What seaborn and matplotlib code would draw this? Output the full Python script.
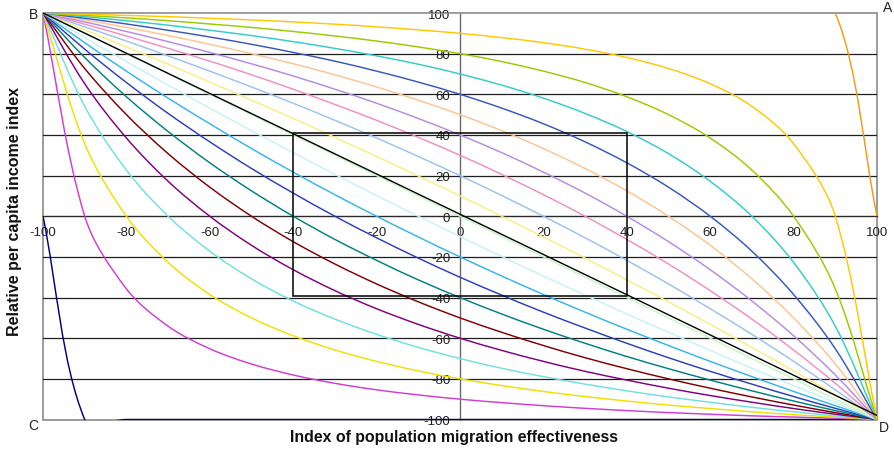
import math
import matplotlib
matplotlib.use("Agg")
import matplotlib.pyplot as plt
from matplotlib.path import Path
from matplotlib.patches import PathPatch, Rectangle
import seaborn as sns

x_index = [-100, -90, -80, -70, -60, -50, -40, -30, -20, -10, 0,
           10, 20, 30, 40, 50, 60, 70, 80, 90, 100]

y_p100 = [100, 100, 100, 100, 100, 100, 100, 100, 100, 100, 100,
          100, 100, 100, 100, 100, 100, 100, 100, 100, 0]
y_p90 = [100, 99.4, 98.8, 98.2, 97.4, 96.6, 95.6, 94.5, 93.2, 91.7, 90,
         87.9, 85.4, 82.2, 78.1, 72.7, 65.2, 54.1, 35.7, 0, -100]
y_p80 = [100, 98.8, 97.6, 96.2, 94.6, 92.9, 90.9, 88.7, 86.2, 83.3, 80,
         76.1, 71.4, 65.8, 58.8, 50.0, 38.5, 22.7, 0, -35.7, -100]
y_p70 = [100, 98.2, 96.2, 94.0, 91.5, 88.9, 85.9, 82.6, 78.9, 74.8, 70,
         64.5, 58.1, 50.6, 41.7, 30.8, 17.2, 0, -22.7, -54.1, -100]
y_p60 = [100, 97.4, 94.6, 91.5, 88.2, 84.6, 80.6, 76.3, 71.4, 66.0, 60,
         53.2, 45.5, 36.6, 26.3, 14.3, 0, -17.2, -38.5, -65.2, -100]
y_p50 = [100, 96.6, 92.9, 88.9, 84.6, 80.0, 75.0, 69.6, 63.6, 57.1, 50,
         42.1, 33.3, 23.5, 12.5, 0, -14.3, -30.8, -50.0, -72.7, -100]
y_p40 = [100, 95.6, 90.9, 85.9, 80.6, 75.0, 69.0, 62.5, 55.6, 48.1, 40,
         31.3, 21.7, 11.4, 0, -12.5, -26.3, -41.7, -58.8, -78.1, -100]
y_p30 = [100, 94.5, 88.7, 82.6, 76.3, 69.6, 62.5, 55.0, 47.2, 38.8, 30,
         20.6, 10.6, 0, -11.4, -23.5, -36.6, -50.6, -65.8, -82.2, -100]
y_p20 = [100, 93.2, 86.2, 78.9, 71.4, 63.6, 55.6, 47.2, 38.5, 29.4, 20,
         10.2, 0, -10.6, -21.7, -33.3, -45.5, -58.1, -71.4, -85.4, -100]
y_p10 = [100, 91.7, 83.3, 74.8, 66.0, 57.1, 48.1, 38.8, 29.4, 19.8, 10,
         0, -10.2, -20.6, -31.3, -42.1, -53.2, -64.5, -76.1, -87.9, -100]
y_0 = [100, 90, 80, 70, 60, 50, 40, 30, 20, 10, 0,
       -10, -20, -30, -40, -50, -60, -70, -80, -90, -100]
y_m10 = [100, 87.9, 76.1, 64.5, 53.2, 42.1, 31.3, 20.6, 10.2, 0, -10,
         -19.8, -29.4, -38.8, -48.1, -57.1, -66.0, -74.8, -83.3, -91.7, -100]
y_m20 = [100, 85.4, 71.4, 58.1, 45.5, 33.3, 21.7, 10.6, 0, -10.2, -20,
         -29.4, -38.5, -47.2, -55.6, -63.6, -71.4, -78.9, -86.2, -93.2, -100]
y_m30 = [100, 82.2, 65.8, 50.6, 36.6, 23.5, 11.4, 0, -10.6, -20.6, -30,
         -38.8, -47.2, -55.0, -62.5, -69.6, -76.3, -82.6, -88.7, -94.5, -100]
y_m40 = [100, 78.1, 58.8, 41.7, 26.3, 12.5, 0, -11.4, -21.7, -31.3, -40,
         -48.1, -55.6, -62.5, -69.0, -75.0, -80.6, -85.9, -90.9, -95.6, -100]
y_m50 = [100, 72.7, 50.0, 30.8, 14.3, 0, -12.5, -23.5, -33.3, -42.1, -50,
         -57.1, -63.6, -69.6, -75.0, -80.0, -84.6, -88.9, -92.9, -96.6, -100]
y_m60 = [100, 65.2, 38.5, 17.2, 0, -14.3, -26.3, -36.6, -45.5, -53.2, -60,
         -66.0, -71.4, -76.3, -80.6, -84.6, -88.2, -91.5, -94.6, -97.4, -100]
y_m70 = [100, 54.1, 22.7, 0, -17.2, -30.8, -41.7, -50.6, -58.1, -64.5, -70,
         -74.8, -78.9, -82.6, -85.9, -88.9, -91.5, -94.0, -96.2, -98.2, -100]
y_m80 = [100, 35.7, 0, -22.7, -38.5, -50.0, -58.8, -65.8, -71.4, -76.1, -80,
         -83.3, -86.2, -88.7, -90.9, -92.9, -94.6, -96.2, -97.6, -98.8, -100]
y_m90 = [100, 0, -35.7, -54.1, -65.2, -72.7, -78.1, -82.2, -85.4, -87.9, -90,
         -91.7, -93.2, -94.5, -95.6, -96.6, -97.4, -98.2, -98.8, -99.4, -100]
y_m100 = [0, -100, -100, -100, -100, -100, -100, -100, -100, -100, -100,
          -100, -100, -100, -100, -100, -100, -100, -100, -100, -100]

curve_colors = ['#000080', '#D23CD2', '#F2DF00', '#6FE0E0', '#800080', '#800000',
                '#008080', '#2A3FC0', '#33B5EE', '#C8F2F2', '#C8F5C8', '#F7EE85',
                '#99C2F2', '#F38EBF', '#B48BE6', '#FFC38F', '#3558C0', '#33CCCC',
                '#99CC00', '#FFC800', '#F39A1E']
curves = [y_m100, y_m90, y_m80, y_m70, y_m60, y_m50, y_m40, y_m30, y_m20, y_m10,
          y_0, y_p10, y_p20, y_p30, y_p40, y_p50, y_p60, y_p70, y_p80, y_p90, y_p100]

tick_values = [-100, -80, -60, -40, -20, 0, 20, 40, 60, 80, 100]
grid_levels = [-80, -60, -40, -20, 20, 40, 60, 80]
diag_x = [-100, 100]
diag_y = [100, -98]
box_x = [-40, 40]
box_y = [-39, 41]

x_title = "Index of population migration effectiveness"
y_title = "Relative per capita income index"

W, H = 894, 452
left, right, top, bottom = 43, 877, 14, 420.5
SX = (right - left) / 200.0   # pixels per x unit
SY = (bottom - top) / 200.0   # pixels per y unit


def smooth_path(xs, ys):
    """Smoothed line (like a spreadsheet 'smoothed line'): cubic Bezier segments
    through the data points, tangents weighted by on-screen chord lengths."""
    n = len(xs)
    px = [x * SX for x in xs]
    py = [y * SY for y in ys]
    d = [math.hypot(px[i + 1] - px[i], py[i + 1] - py[i]) for i in range(n - 1)]
    tx, ty = [], []
    for i in range(n):
        a = max(i - 1, 0)
        b = min(i + 1, n - 1)
        span = (d[i - 1] if i > 0 else 0) + (d[i] if i < n - 1 else 0)
        tx.append((px[b] - px[a]) / span)
        ty.append((py[b] - py[a]) / span)
    verts = [(xs[0], ys[0])]
    codes = [Path.MOVETO]
    for i in range(n - 1):
        L = d[i] / 3.0
        c1 = ((px[i] + tx[i] * L) / SX, (py[i] + ty[i] * L) / SY)
        c2 = ((px[i + 1] - tx[i + 1] * L) / SX, (py[i + 1] - ty[i + 1] * L) / SY)
        verts += [c1, c2, (xs[i + 1], ys[i + 1])]
        codes += [Path.CURVE4, Path.CURVE4, Path.CURVE4]
    return Path(verts, codes)


sns.set_style("white")
plt.rcParams['font.family'] = ['Liberation Sans', 'DejaVu Sans']

fig = plt.figure(figsize=(W / 100, H / 100), dpi=100)
ax = fig.add_axes([left / W, 1 - bottom / H, (right - left) / W, (bottom - top) / H])
ax.set_xlim(-100, 100)
ax.set_ylim(-100, 100)
ax.set_facecolor('white')

# outer frame
ax.add_patch(Rectangle((-100, -100), 200, 200, fill=False, edgecolor='#8a8a8a',
                       lw=1.2, zorder=0.5, clip_on=False))
# horizontal gridlines
for g in grid_levels:
    ax.axhline(g, color='#1e1e1e', lw=0.9, zorder=1)

# centred axes
for s in ['top', 'right']:
    ax.spines[s].set_visible(False)
ax.spines['left'].set_position(('data', 0))
ax.spines['bottom'].set_position(('data', 0))
ax.spines['left'].set_color('#6a6a6a')
ax.spines['bottom'].set_color('#2a2a2a')
ax.spines['left'].set_linewidth(1.0)
ax.spines['bottom'].set_linewidth(1.0)
ax.spines['left'].set_zorder(1.5)
ax.spines['bottom'].set_zorder(1.5)
ax.set_xticks(tick_values)
ax.set_yticks(tick_values)
ax.set_xticklabels([str(v) for v in tick_values])
ax.set_yticklabels([str(v) for v in tick_values])
ax.tick_params(axis='both', direction='out', length=4, width=0.8, color='#444444',
               labelsize=9.5, labelcolor='#222222', pad=3)
ax.grid(False)

# smoothed curves
clip_rect = Rectangle((-101, -101), 202, 202, transform=ax.transData)
for ys, col in zip(curves, curve_colors):
    patch = PathPatch(smooth_path(x_index, ys), fill=False, edgecolor=col, lw=1.05,
                      zorder=2)
    patch.set_clip_path(clip_rect)
    ax.add_patch(patch)

# diagonal and central box
sns.lineplot(x=diag_x, y=diag_y, color='black', lw=1.0, ax=ax, zorder=5)
ax.add_patch(Rectangle((box_x[0], box_y[0]), box_x[1] - box_x[0], box_y[1] - box_y[0],
                       fill=False, edgecolor='black', lw=1.1, zorder=5))

# corner letters
corner_kw = dict(xycoords='data', textcoords='offset pixels', fontsize=10,
                 color='#222222', annotation_clip=False)
ax.annotate('B', (-100, 100), xytext=(-5, -1), ha='right', va='center', **corner_kw)
ax.annotate('A', (100, 100), xytext=(6, 6), ha='left', va='center', **corner_kw)
ax.annotate('C', (-100, -100), xytext=(-5, -6), ha='right', va='center', **corner_kw)
ax.annotate('D', (100, -100), xytext=(2, -8), ha='left', va='center', **corner_kw)

# axis titles
fig.text(454 / W, 1 - 438 / H, x_title, ha='center', va='center',
         fontsize=11.4, fontweight='bold', color='#111111')
fig.text(15 / W, 1 - 212 / H, y_title, ha='center', va='center', rotation=90,
         fontsize=11.5, fontweight='bold', color='#111111')

fig.savefig('out.png', dpi=100)
